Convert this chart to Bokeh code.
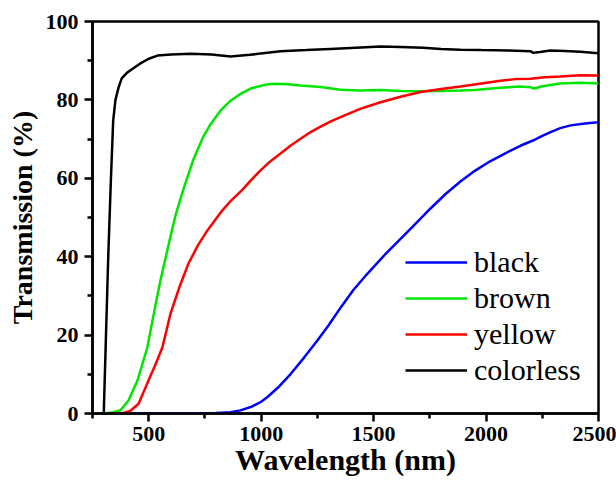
from bokeh.plotting import figure
from bokeh.models import Legend, LegendItem, FixedTicker, Range1d
from bokeh.embed import file_html
from bokeh.resources import INLINE

# ---- data ----
colorless_wl = [300, 310, 320, 332, 342, 352, 366, 380, 405, 430, 463, 500, 539, 600, 686, 780,
                864, 950, 1086, 1200, 1308, 1420, 1531, 1620, 1720, 1800, 1886, 1980, 2100,
                2198, 2211, 2240, 2286, 2350, 2420, 2500]
colorless_T = [0, 20, 40, 60, 74.7, 80, 83.2, 85.5, 87, 88, 89.3, 90.5, 91.3, 91.6, 91.8, 91.6,
               91.1, 91.5, 92.4, 92.7, 93.0, 93.3, 93.6, 93.5, 93.3, 93.0, 92.8, 92.7, 92.6,
               92.4, 92.0, 92.2, 92.6, 92.5, 92.3, 91.9]

brown_wl = [300, 340, 374, 410, 450, 494, 521, 552, 588, 619, 645, 668, 700, 740, 775, 820, 864,
            910, 953, 1020, 1064, 1120, 1175, 1264, 1353, 1440, 1531, 1620, 1709, 1800, 1886,
            1950, 2064, 2150, 2198, 2215, 2250, 2331, 2420, 2500]
brown_T = [0, 0.3, 0.8, 3.3, 8.4, 16.9, 25.0, 33.9, 43.0, 50.5, 55.5, 59.6, 65, 70.3, 73.8,
           77.3, 79.8, 81.6, 82.9, 83.9, 84.1, 84.0, 83.7, 83.3, 82.6, 82.4, 82.5, 82.3, 82.2,
           82.3, 82.4, 82.5, 83.1, 83.4, 83.2, 82.9, 83.5, 84.2, 84.4, 84.2]

yellow_wl = [300, 380, 419, 455, 499, 530, 561, 597, 635, 677, 720, 761, 820, 864, 917, 953,
             997, 1040, 1086, 1130, 1175, 1220, 1264, 1310, 1353, 1440, 1531, 1620, 1709, 1800,
             1886, 1980, 2064, 2130, 2198, 2260, 2331, 2420, 2500]
yellow_T = [0, 0, 0.7, 2.5, 8.4, 12.5, 16.9, 25.5, 32, 38.3, 43, 46.7, 51.3, 54.2, 57.1, 59.4,
            62, 64.3, 66.3, 68.3, 70.1, 71.8, 73.2, 74.5, 75.6, 77.7, 79.4, 80.8, 82, 82.8,
            83.4, 84.2, 84.9, 85.3, 85.4, 85.8, 86.0, 86.3, 86.2]

black_wl = [300, 700, 800, 864, 908, 960, 1000, 1028, 1080, 1130, 1190, 1250, 1300, 1353, 1410,
            1473, 1550, 1633, 1700, 1753, 1820, 1886, 1950, 2020, 2090, 2153, 2211, 2250, 2287,
            2330, 2376, 2440, 2500]
black_T = [0, 0, 0.1, 0.3, 0.8, 1.8, 3.0, 4.2, 6.9, 10.0, 14.2, 18.6, 22.5, 27, 31.5,
           35.7, 40.5, 45.3, 49.2, 52.3, 56.0, 59.2, 61.9, 64.4, 66.5, 68.3, 69.7, 70.8, 71.8,
           72.8, 73.5, 74.0, 74.3]

series_names = ["black", "brown", "yellow", "colorless"]
x_major_ticks = [500, 1000, 1500, 2000, 2500]
x_minor_ticks = [250, 750, 1250, 1750, 2250]
y_major_ticks = [0, 20, 40, 60, 80, 100]
y_minor_ticks = [10, 30, 50, 70, 90]

SERIF = "Times"

p = figure(width=616, height=481, output_backend="svg", toolbar_location=None,
           x_range=Range1d(250, 2500), y_range=Range1d(0, 100),
           min_border_left=92, min_border_right=18, min_border_top=21, min_border_bottom=68)
p.background_fill_color = "white"
p.border_fill_color = "white"
p.outline_line_color = "black"
p.outline_line_width = 2.5
p.xgrid.visible = False
p.ygrid.visible = False

r_black = p.line(black_wl, black_T, line_color="#0000ff", line_width=2.5)
r_brown = p.line(brown_wl, brown_T, line_color="#00e600", line_width=2.5)
r_yellow = p.line(yellow_wl, yellow_T, line_color="#ff0000", line_width=2.5)
r_colorless = p.line(colorless_wl, colorless_T, line_color="#000000", line_width=2.5)

for ax, major, minor in ((p.xaxis[0], x_major_ticks, x_minor_ticks),
                         (p.yaxis[0], y_major_ticks, y_minor_ticks)):
    ax.ticker = FixedTicker(ticks=major, minor_ticks=minor)
    ax.axis_line_width = 2.5
    ax.axis_line_color = "black"
    ax.major_tick_line_width = 2.5
    ax.minor_tick_line_width = 2.5
    ax.major_tick_in = 0
    ax.major_tick_out = 8
    ax.minor_tick_in = 0
    ax.minor_tick_out = 5
    ax.major_label_text_font = SERIF
    ax.major_label_text_font_style = "bold"
    ax.major_label_text_font_size = "22px"
    ax.major_label_text_color = "black"
    ax.axis_label_text_font = SERIF
    ax.axis_label_text_font_style = "bold"
    ax.axis_label_text_color = "black"

p.xaxis.axis_label = "Wavelength (nm)"
p.yaxis.axis_label = "Transmission (%)"
p.xaxis.axis_label_text_font_size = "30px"
p.yaxis.axis_label_text_font_size = "28px"
p.xaxis.major_label_standoff = 5
p.yaxis.major_label_standoff = 6
p.xaxis.axis_label_standoff = -1
p.yaxis.axis_label_standoff = 5

legend = Legend(items=[LegendItem(label=n, renderers=[r]) for n, r in
                       zip(series_names, [r_black, r_brown, r_yellow, r_colorless])],
                location=(313, 25))
legend.border_line_alpha = 0
legend.background_fill_alpha = 0
legend.padding = 0
legend.spacing = 0
legend.margin = 0
legend.glyph_width = 62
legend.glyph_height = 36
legend.label_height = 36
legend.label_standoff = 7
legend.label_text_font = SERIF
legend.label_text_font_size = "30px"
legend.label_text_color = "black"
p.add_layout(legend)

open("out.html", "w").write(file_html(p, INLINE))
